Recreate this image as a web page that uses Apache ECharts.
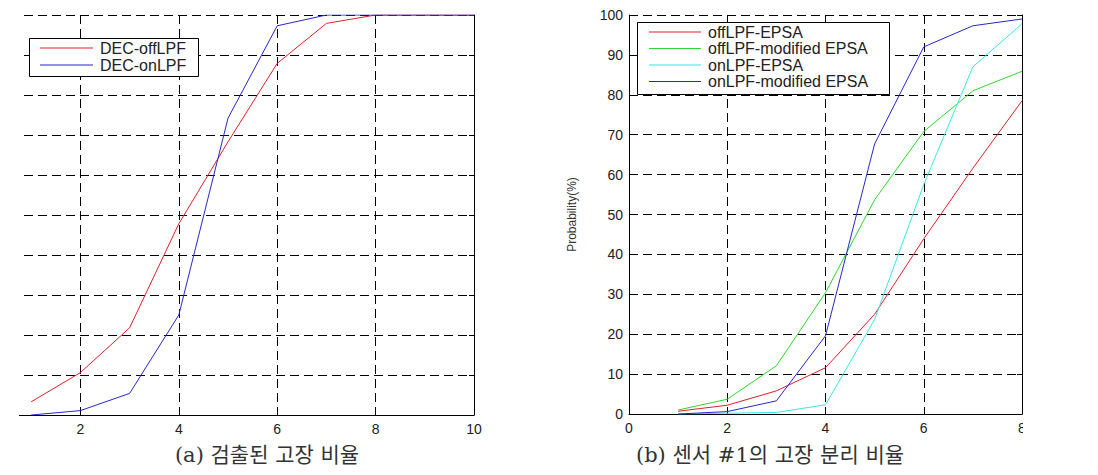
<!DOCTYPE html>
<html>
<head>
<meta charset="utf-8">
<script src="https://cdn.jsdelivr.net/npm/echarts@6/dist/echarts.min.js"></script>
<style>
  html, body { margin: 0; padding: 0; background: #fff; overflow: hidden; width: 1098px; height: 475px; }
  #chart { width: 1116px; height: 475px; margin-left: -18px; }
</style>
</head>
<body>
<div id="chart"></div>
<script>
// ---- data ----
const xLeft = [1, 2, 3, 4, 5, 6, 7, 8, 9, 10];
const decOffLPF = [3.3, 10.6, 21.8, 47.8, 68.3, 87.9, 97.9, 100, 100, 100];
const decOnLPF = [0, 1.1, 5.4, 25.0, 74.2, 97.3, 100, 100, 100, 100];

const xRight = [1, 2, 3, 4, 5, 6, 7, 8];
const offLPF_EPSA = [0.7, 2.2, 5.8, 11.6, 25.0, 43.9, 61.6, 78.5];
const offLPF_modEPSA = [1.0, 3.7, 12.1, 30.4, 53.7, 70.8, 81.0, 85.9];
const onLPF_EPSA = [0, 0.2, 0.4, 2.3, 23.7, 57.5, 87.0, 97.8];
const onLPF_modEPSA = [0, 0.6, 3.3, 19.6, 67.7, 92.0, 97.3, 99.0];

const leftNames = ['DEC-offLPF', 'DEC-onLPF'];
const rightNames = ['offLPF-EPSA', 'offLPF-modified EPSA', 'onLPF-EPSA', 'onLPF-modified EPSA'];
const captionA = '(a) 검출된 고장 비율';
const captionB = '(b) 센서 #1의 고장 분리 비율';
const yName = 'Probability(%)';

// ---- styles ----
const SHIFT = 18; // chart container starts 18px left of the page edge
const RED = '#e3202a', GREEN = '#2ed82e', CYAN = '#3ae6e6', BLUE = '#2626d4';
const tickFont = { fontFamily: 'Liberation Sans, Arial, sans-serif', fontSize: 14, color: '#222' };
const dashed = { color: '#000', type: [9, 5], width: 1 };
const blackLine = { color: '#000', width: 1 };
const lineIcon = 'path://M0,0L0,0ZM0,6.5L53,6.5L53,7.5L0,7.5ZM53,14L53,14Z';

function pairs(xs, ys) { return xs.map((x, i) => [x, ys[i]]); }
function lineSeries(name, xi, yi, xs, ys, color) {
  return {
    name, type: 'line', xAxisIndex: xi, yAxisIndex: yi,
    data: pairs(xs, ys), symbol: 'none', z: 2,
    lineStyle: { color, width: 1 }, itemStyle: { color }
  };
}

const chart = echarts.init(document.getElementById('chart'), null, { renderer: 'svg' });
chart.setOption({
  animation: false,
  backgroundColor: '#fff',
  grid: [
    { left: 0, top: 15, width: 492, height: 400 },
    { left: 629 + SHIFT, top: 15, width: 393, height: 399 }
  ],
  xAxis: [
    { gridIndex: 0, type: 'value', min: 0, max: 10, interval: 2,
      axisLine: { show: true, lineStyle: blackLine },
      axisTick: { show: true, inside: true, length: 5, lineStyle: blackLine },
      axisLabel: Object.assign({ margin: 7, showMinLabel: false }, tickFont),
      splitLine: { show: true, lineStyle: dashed } },
    { gridIndex: 1, type: 'value', min: 0, max: 8, interval: 2,
      axisLine: { show: true, lineStyle: blackLine },
      axisTick: { show: true, inside: true, length: 5, lineStyle: blackLine },
      axisLabel: Object.assign({ margin: 7 }, tickFont),
      splitLine: { show: true, lineStyle: dashed } }
  ],
  yAxis: [
    { gridIndex: 0, type: 'value', min: 0, max: 100, interval: 10,
      axisLine: { show: false }, axisTick: { show: false }, axisLabel: { show: false },
      splitLine: { show: true, lineStyle: dashed } },
    { gridIndex: 0, type: 'value', min: 0, max: 100, interval: 10, position: 'right',
      axisLine: { show: true, lineStyle: blackLine },
      axisTick: { show: true, inside: true, length: 5, lineStyle: blackLine },
      axisLabel: { show: false }, splitLine: { show: false } },
    { gridIndex: 1, type: 'value', min: 0, max: 100, interval: 10,
      name: yName, nameLocation: 'middle', nameRotate: 90, nameGap: 51,
      nameTextStyle: { fontFamily: 'Liberation Sans, Arial, sans-serif', fontSize: 12, color: '#333' },
      axisLine: { show: true, lineStyle: blackLine },
      axisTick: { show: true, inside: true, length: 5, lineStyle: blackLine },
      axisLabel: Object.assign({ margin: 6 }, tickFont),
      splitLine: { show: true, lineStyle: dashed } },
    { gridIndex: 1, type: 'value', min: 0, max: 100, interval: 10, position: 'right',
      axisLine: { show: true, lineStyle: blackLine },
      axisTick: { show: true, inside: true, length: 5, lineStyle: blackLine },
      axisLabel: { show: false }, splitLine: { show: false } }
  ],
  legend: [
    { data: leftNames, orient: 'vertical', left: 40 + SHIFT, top: 40, padding: 0,
      icon: lineIcon, itemWidth: 53, itemHeight: 14, itemGap: 1.0, selectedMode: false, z: 6,
      textStyle: { fontFamily: 'Liberation Sans, Arial, sans-serif', fontSize: 16, color: '#222', padding: [0, 0, 0, 2] } },
    { data: rightNames, orient: 'vertical', left: 649 + SHIFT, top: 24, padding: 0,
      icon: lineIcon, itemWidth: 52, itemHeight: 14, itemGap: 0.5, selectedMode: false, z: 6,
      textStyle: { fontFamily: 'Liberation Sans, Arial, sans-serif', fontSize: 16, color: '#222', padding: [0, 0, 0, 2] } }
  ],
  graphic: [
    // the reference figure is cropped at its left edge
    { type: 'rect', z: 10, shape: { x: 0, y: 0, width: 19 + SHIFT, height: 418 },
      style: { fill: '#fff', stroke: null } },
    { type: 'rect', z: 5, shape: { x: 29.5 + SHIFT, y: 38.5, width: 169, height: 38 },
      style: { fill: '#fff', stroke: '#000', lineWidth: 1 } },
    { type: 'rect', z: 5, shape: { x: 637.5 + SHIFT, y: 22.5, width: 252, height: 72 },
      style: { fill: '#fff', stroke: '#000', lineWidth: 1 } },
    { type: 'rect', z: 10, shape: { x: 1023 + SHIFT, y: 416, width: 75, height: 22 },
      style: { fill: '#fff', stroke: null } },
    { type: 'text', z: 10, x: 267 + SHIFT, y: 455,
      style: { text: captionA, textAlign: 'center', textVerticalAlign: 'middle',
        fontFamily: "'DejaVu Serif', 'Noto Sans CJK KR', serif", fontSize: 21, fill: '#333' } },
    { type: 'text', z: 10, x: 770 + SHIFT, y: 455,
      style: { text: captionB, textAlign: 'center', textVerticalAlign: 'middle',
        fontFamily: "'DejaVu Serif', 'Noto Sans CJK KR', serif", fontSize: 21, fill: '#333' } }
  ],
  series: [
    lineSeries(leftNames[0], 0, 0, xLeft, decOffLPF, RED),
    lineSeries(leftNames[1], 0, 0, xLeft, decOnLPF, BLUE),
    lineSeries(rightNames[0], 1, 2, xRight, offLPF_EPSA, RED),
    lineSeries(rightNames[1], 1, 2, xRight, offLPF_modEPSA, GREEN),
    lineSeries(rightNames[2], 1, 2, xRight, onLPF_EPSA, CYAN),
    lineSeries(rightNames[3], 1, 2, xRight, onLPF_modEPSA, BLUE)
  ]
});
</script>
</body>
</html>
